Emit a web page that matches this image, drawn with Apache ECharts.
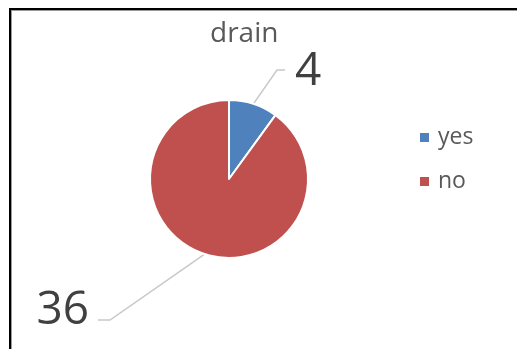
<!DOCTYPE html>
<html>
<head>
<meta charset="utf-8">
<script src="https://cdn.jsdelivr.net/npm/echarts@6/dist/echarts.min.js"></script>
<style>
html,body{margin:0;padding:0;background:#fff;}
#c{width:517px;height:349px;}
</style>
</head>
<body>
<div id="c"></div>
<script>
const titleText = 'drain';
const categories = ['yes', 'no'];
const values = [4, 36];
const colors = ['#4F81BD', '#C0504D'];

const chart = echarts.init(document.getElementById('c'), null, {renderer: 'canvas'});
const FONT = 'Open Sans';
const option = {
  animation: false,
  backgroundColor: '#ffffff',
  title: {
    text: titleText,
    left: 210,
    top: 20,
    padding: 0,
    textStyle: {fontFamily: FONT, fontSize: 28, fontWeight: 'normal', color: '#595959'}
  },
  legend: {
    orient: 'vertical',
    left: 418,
    top: 126,
    padding: 0,
    itemWidth: 11,
    itemHeight: 11,
    itemGap: 21,
    icon: 'rect',
    textStyle: {fontFamily: FONT, fontSize: 23, color: '#595959', padding: [0, 0, 0, 3]},
    data: categories
  },
  graphic: [
    {type: 'rect', shape: {x: 9, y: 8, width: 508, height: 2}, style: {fill: '#000'}},
    {type: 'rect', shape: {x: 11, y: 10, width: 506, height: 1}, style: {fill: '#999'}},
    {type: 'rect', shape: {x: 9, y: 8, width: 2, height: 341}, style: {fill: '#000'}},
    {type: 'rect', shape: {x: 11, y: 10, width: 1, height: 339}, style: {fill: '#999'}}
  ],
  series: [{
    type: 'pie',
    center: [229, 179],
    radius: 79,
    startAngle: 90,
    clockwise: true,
    avoidLabelOverlap: false,
    itemStyle: {borderColor: '#fff', borderWidth: 2},
    label: {
      show: true,
      position: 'outside',
      formatter: '{c}',
      fontFamily: FONT,
      fontSize: 46,
      color: '#404040'
    },
    labelLine: {show: true, length: 38, length2: 8, lineStyle: {color: '#c8c8c8', width: 1.5}},
    labelLayout: function (p) {
      const pts = p.labelLinePoints;
      const start = pts && pts[0] ? pts[0] : null;
      if (p.dataIndex === 0) {
        const r = {x: 295, y: 72, align: 'left', verticalAlign: 'middle'};
        if (start) r.labelLinePoints = [start, [277, 70], [285, 70]];
        return r;
      } else {
        const r = {x: 89, y: 311, align: 'right', verticalAlign: 'middle'};
        if (start) r.labelLinePoints = [start, [110, 320], [98, 320]];
        return r;
      }
    },
    emphasis: {disabled: true},
    data: categories.map((n, i) => ({name: n, value: values[i], itemStyle: {color: colors[i]}}))
  }]
};
chart.setOption(option);
</script>
</body>
</html>
